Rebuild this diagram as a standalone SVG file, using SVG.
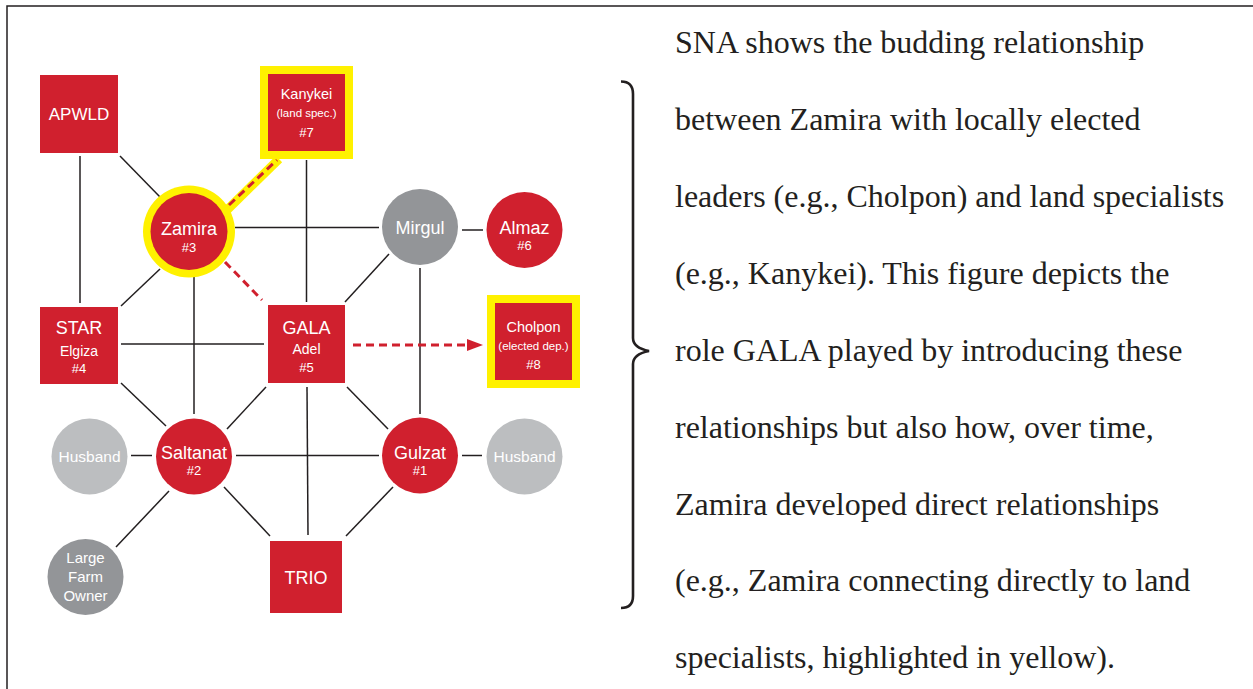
<svg xmlns="http://www.w3.org/2000/svg" width="1253" height="689" viewBox="0 0 1253 689">
  <style>
    .frame { fill: none; stroke: #231f20; stroke-width: 1.5; }
    .edge { stroke: #231f20; stroke-width: 1.5; fill: none; }
    .dash { stroke: #d0202e; stroke-width: 3; stroke-dasharray: 8 5; fill: none; }
    .band { stroke: #fff100; stroke-width: 9; fill: none; }
    .red { fill: #d0202e; }
    .hl { fill: #fff100; }
    .grey { fill: #939598; }
    .pale { fill: #bcbec0; }
    .lbl { font-family: "Liberation Sans", Arial, sans-serif; fill: #ffffff; text-anchor: middle; }
    .big { font-size: 18px; }
    .mid { font-size: 14px; }
    .num { font-size: 13px; }
    .sml { font-size: 11.5px; }
    .note { font-family: "Liberation Serif", "Times New Roman", serif; font-size: 32px; fill: #231f20; }
  </style>
  <defs>
    <marker id="arrow" markerWidth="16" markerHeight="12" refX="15" refY="6" orient="auto" markerUnits="userSpaceOnUse">
      <path d="M0,0 L16,6 L0,12 Z" fill="#d0202e"/>
    </marker>
  </defs>

  <rect x="0" y="0" width="1253" height="689" fill="#ffffff"/>
  <path class="frame" d="M7,689 V6 H1253"/>

  <!-- connectors -->
  <g id="connectors">
    <line class="edge" x1="80" y1="156" x2="80" y2="303"/>
    <line class="edge" x1="120" y1="156" x2="160" y2="197"/>
    <line class="edge" x1="306.5" y1="160" x2="306.5" y2="302"/>
    <line class="edge" x1="235" y1="227.5" x2="379" y2="227.5"/>
    <line class="edge" x1="462" y1="230" x2="483" y2="230"/>
    <line class="edge" x1="160" y1="269" x2="121" y2="306"/>
    <line class="edge" x1="194" y1="277" x2="194" y2="414"/>
    <line class="edge" x1="389" y1="254" x2="345" y2="302"/>
    <line class="edge" x1="420" y1="268" x2="420" y2="414"/>
    <line class="edge" x1="121" y1="344" x2="264" y2="344"/>
    <line class="edge" x1="121" y1="383" x2="166" y2="426"/>
    <line class="edge" x1="266" y1="387" x2="227" y2="429"/>
    <line class="edge" x1="307" y1="387" x2="308" y2="535"/>
    <line class="edge" x1="347" y1="387" x2="388" y2="429"/>
    <line class="edge" x1="236" y1="455.5" x2="379" y2="455.5"/>
    <line class="edge" x1="131" y1="455.5" x2="152" y2="455.5"/>
    <line class="edge" x1="462" y1="455.5" x2="482" y2="455.5"/>
    <line class="edge" x1="169" y1="491" x2="116" y2="547"/>
    <line class="edge" x1="224" y1="487" x2="270" y2="536"/>
    <line class="edge" x1="393" y1="487" x2="346" y2="536"/>
    <!-- new ties -->
    <line class="band" x1="227" y1="210" x2="279" y2="159"/>
    <line class="dash" x1="229" y1="205" x2="277" y2="160"/>
    <line class="dash" x1="225" y1="262" x2="262" y2="300"/>
    <line class="dash" x1="353" y1="345" x2="482" y2="345" marker-end="url(#arrow)"/>
  </g>

  <g id="apwld">
    <rect class="red" x="40" y="75" width="78" height="78"/>
    <text class="lbl" x="79" y="119.5" font-size="17">APWLD</text>
  </g>

  <g id="kanykei">
    <rect class="hl" x="260" y="66" width="93" height="93"/>
    <rect class="red" x="268" y="74" width="77" height="77"/>
    <text class="lbl" x="306.5" y="98.5" font-size="14.5">Kanykei</text>
    <text class="lbl sml" x="306.5" y="116.5">(land spec.)</text>
    <text class="lbl num" x="306.5" y="136.5">#7</text>
  </g>

  <g id="zamira">
    <circle class="hl" cx="189" cy="231.5" r="46"/>
    <circle class="red" cx="189" cy="231.5" r="38.5"/>
    <text class="lbl big" x="189" y="234.5">Zamira</text>
    <text class="lbl num" x="189" y="251.5">#3</text>
  </g>

  <g id="mirgul">
    <circle class="grey" cx="420" cy="227" r="38"/>
    <text class="lbl big" x="420" y="234">Mirgul</text>
  </g>

  <g id="almaz">
    <circle class="red" cx="524.5" cy="230" r="38"/>
    <text class="lbl big" x="524.5" y="233.5">Almaz</text>
    <text class="lbl num" x="524.5" y="250">#6</text>
  </g>

  <g id="star">
    <rect class="red" x="40" y="307" width="78" height="77"/>
    <text class="lbl big" x="79" y="333.5">STAR</text>
    <text class="lbl mid" x="79" y="355.5">Elgiza</text>
    <text class="lbl num" x="79" y="372.5">#4</text>
  </g>

  <g id="gala">
    <rect class="red" x="268" y="305" width="77" height="78"/>
    <text class="lbl big" x="306.5" y="333.5">GALA</text>
    <text class="lbl mid" x="306.5" y="354">Adel</text>
    <text class="lbl num" x="306.5" y="371.5">#5</text>
  </g>

  <g id="cholpon">
    <rect class="hl" x="487" y="295" width="93" height="93"/>
    <rect class="red" x="495" y="303" width="77" height="77"/>
    <text class="lbl" x="533.5" y="331.5" font-size="14.5">Cholpon</text>
    <text class="lbl sml" x="533.5" y="349.5">(elected dep.)</text>
    <text class="lbl num" x="533.5" y="368.5">#8</text>
  </g>

  <g id="husband-left">
    <circle class="pale" cx="89.5" cy="456.5" r="38"/>
    <text class="lbl" x="89.5" y="461.5" font-size="15.5">Husband</text>
  </g>

  <g id="saltanat">
    <circle class="red" cx="194" cy="456.5" r="38"/>
    <text class="lbl big" x="194" y="458.5">Saltanat</text>
    <text class="lbl num" x="194" y="474.5">#2</text>
  </g>

  <g id="gulzat">
    <circle class="red" cx="420" cy="455.5" r="38"/>
    <text class="lbl big" x="420" y="458.5">Gulzat</text>
    <text class="lbl num" x="420" y="474.5">#1</text>
  </g>

  <g id="husband-right">
    <circle class="pale" cx="524.5" cy="456.5" r="38"/>
    <text class="lbl" x="524.5" y="461.5" font-size="15.5">Husband</text>
  </g>

  <g id="large-farm-owner">
    <circle class="grey" cx="85.5" cy="577" r="38"/>
    <text class="lbl" x="85.5" y="562.5" font-size="15">Large</text>
    <text class="lbl" x="85.5" y="581.5" font-size="15">Farm</text>
    <text class="lbl" x="85.5" y="601" font-size="15">Owner</text>
  </g>

  <g id="trio">
    <rect class="red" x="270" y="541" width="72" height="72"/>
    <text class="lbl big" x="306" y="583.5">TRIO</text>
  </g>

  <!-- brace and caption -->
  <g id="caption">
    <path d="M621,81.5 C629,81.5 633,86 633,94 V338 C633,345 639,349 649,351 C639,353 633,357 633,364 V596 C633,604 629,608 621,608" fill="none" stroke="#231f20" stroke-width="2.6"/>
    <text class="note" x="675" y="53">SNA shows the budding relationship</text>
    <text class="note" x="675" y="130">between Zamira with locally elected</text>
    <text class="note" x="675" y="207">leaders (e.g., Cholpon) and land specialists</text>
    <text class="note" x="675" y="284">(e.g., Kanykei). This figure depicts the</text>
    <text class="note" x="675" y="361">role GALA played by introducing these</text>
    <text class="note" x="675" y="438">relationships but also how, over time,</text>
    <text class="note" x="675" y="514.5">Zamira developed direct relationships</text>
    <text class="note" x="675" y="591">(e.g., Zamira connecting directly to land</text>
    <text class="note" x="675" y="668">specialists, highlighted in yellow).</text>
  </g>
</svg>
